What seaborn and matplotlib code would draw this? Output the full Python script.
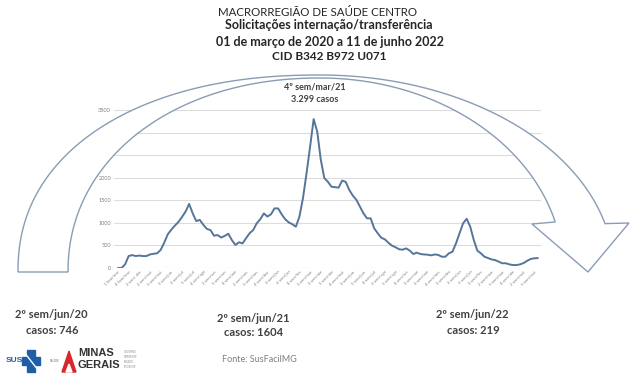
import numpy as np
import matplotlib.pyplot as plt
import seaborn as sns
from matplotlib.path import Path
from matplotlib.patches import PathPatch, Polygon, Rectangle

# casos semanais, 1a semana de mar/2020 ate 2a semana de jun/2022
casos = [0, 0, 80, 265, 285, 265, 275, 265, 265, 300,
         315, 325, 400, 560, 746, 850, 940, 1020, 1130, 1250,
         1420, 1210, 1040, 1065, 955, 865, 840, 715, 730, 675,
         710, 760, 620, 510, 570, 545, 660, 770, 840, 990,
         1080, 1210, 1140, 1190, 1320, 1320, 1190, 1080, 1010, 970,
         915, 1140, 1550, 2100, 2690, 3299, 3020, 2400, 1990, 1910,
         1800, 1790, 1780, 1935, 1910, 1730, 1604, 1510, 1360, 1210,
         1100, 1100, 880, 770, 670, 635, 560, 495, 460, 415,
         405, 435, 385, 310, 340, 310, 300, 295, 280, 300,
         290, 250, 250, 325, 360, 545, 770, 990, 1090, 915,
         620, 385, 325, 250, 220, 190, 175, 140, 105, 105,
         80, 65, 65, 80, 110, 160, 200, 215, 219]

# rotulo a cada 3 semanas
rotulos = ['1 Sem/mar', '4 Sem/mar', '3 sem/ abr', '2 sem/mai', '5 sem/mai',
           '3 sem/jun', '2 sem/jul', '5 sem/jul', '4 sem/ago', '2 sem/set',
           '5 sem/set', '4 sem/out', '2 sem/nov', '5 sem/nov', '4 sem/dez',
           '3 sem/jan', '6 sem/jan', '4 sem/fev', '3 sem/mar', '2 sem/abr',
           '5 sem/abr', '4 sem/mai', '2 sem/jun', '5 sem/jun', '4 sem/jul',
           '2 sem/ago', '5 sem/ago', '4 sem/set', '3 sem/out', '6 sem/out',
           '4 sem/nov', '3 sem/dez', '2 sem/jan', '5 sem/jan', '3 sem/fev',
           '2 sem/mar', '5 sem/mar', '4 sem/abr', '2 sem/mai', '5 sem/mai']

destaques = [('2º sem/jun/20', 'casos: 746'),
             ('2º sem/jun/21', 'casos: 1604'),
             ('2º sem/jun/22', 'casos: 219')]

sns.set_theme(style='white')
plt.rcParams['font.family'] = ['Lato', 'DejaVu Sans']

fig = plt.figure(figsize=(6.4, 3.75), dpi=100)
fig.patch.set_facecolor('white')

# area do grafico (em pixels da imagem)
ax = fig.add_axes([114.4 / 640, (375 - 268) / 375, 427 / 640, 158 / 375])
semanas = np.arange(len(casos))
sns.lineplot(x=semanas, y=casos, ax=ax, color='#56759a', linewidth=1.4)
ax.set_xlim(-1, len(casos))
ax.set_ylim(0, 3500)
ax.set_yticks(np.arange(0, 3501, 500))
ax.set_xticks(semanas[::3])
ax.set_xticklabels(rotulos, rotation=45, ha='right', rotation_mode='anchor',
                   fontsize=3, color='#7f7f7f')
ax.tick_params(axis='y', labelsize=4, labelcolor='#7f7f7f', length=0, pad=2.5)
ax.tick_params(axis='x', length=0, pad=1.5)
ax.yaxis.grid(True, color='#dcdcdc', linewidth=0.8)
ax.set_axisbelow(True)
for s in ax.spines.values():
    s.set_visible(False)
ax.set_xlabel('')
ax.set_ylabel('')

# camada de sobreposicao em pixels
ov = fig.add_axes([0, 0, 1, 1], zorder=5)
ov.set_xlim(0, 640)
ov.set_ylim(375, 0)
ov.axis('off')
ov.patch.set_alpha(0)


def arco(cx, cy, a, b, p, t0, t1, n=80):
    t = np.linspace(t0, t1, n)
    c, s = np.cos(t), np.sin(t)
    x = cx + a * np.sign(c) * np.abs(c) ** (2 / p)
    y = cy - b * np.abs(s) ** (2 / p)
    return np.column_stack([x, y])


# seta curva
ext_esq = arco(320, 272, 302, 197, 2.2, np.pi, np.pi / 2)
ext_dir = arco(320, 272, 294, 197, 2.0, np.pi / 2, np.arccos(285 / 294))
ponta = np.array([[629, 223], [588, 272], [532, 224], [555, 222]])
int_dir = arco(320, 272, 243.5, 194, 2.0, np.arccos(235 / 243.5), np.pi / 2)
int_esq = arco(320, 272, 252, 194, 2.1, np.pi / 2, np.pi)
verts = np.vstack([ext_esq, ext_dir, ponta, int_dir, int_esq, [[18, 272]]])
codes = [Path.MOVETO] + [Path.LINETO] * (len(verts) - 2) + [Path.CLOSEPOLY]
ov.add_patch(PathPatch(Path(verts, codes), facecolor='white', edgecolor='#8a9cb4',
                       linewidth=1.0))

# titulos
escuro = '#262626'
ov.text(317, 13, 'MACRORREGIÃO DE SAÚDE CENTRO', ha='center', va='center',
        fontsize=8.3, color=escuro)
ov.text(329, 25, 'Solicitações internação/transferência', ha='center', va='center',
        fontsize=9, fontweight='bold', color=escuro)
ov.text(330, 42, '01 de março de 2020 a 11 de junho 2022', ha='center', va='center',
        fontsize=9, fontweight='bold', color=escuro)
ov.text(329, 56, 'CID B342 B972 U071', ha='center', va='center',
        fontsize=8.5, fontweight='bold', color=escuro)

# pico
ov.text(315, 87, '4º sem/mar/21', ha='center', va='center', fontsize=6.5,
        fontweight='bold', color='#404040')
ov.text(315, 99, '3.299 casos', ha='center', va='center', fontsize=6.5,
        fontweight='bold', color='#404040')

# destaques
pos = [(51, 315), (253, 318), (472, 315)]
for (t1, t2), (x, y) in zip(destaques, pos):
    ov.text(x, y, t1, ha='center', va='center', fontsize=8, fontweight='bold', color='#404040')
    ov.text(x + 1, y + 15, t2, ha='center', va='center', fontsize=8, fontweight='bold', color='#404040')

ov.text(222, 360, 'Fonte: SusFacilMG', ha='left', va='center', fontsize=6.5, color='#7f7f7f')

# logos
azul = '#1f5fa8'
ov.text(6, 361, 'SUS', ha='left', va='center', fontsize=6, fontweight='bold',
        color=azul, family='Liberation Sans')
ov.add_patch(Rectangle((27, 350), 8, 22, color=azul))
ov.add_patch(Rectangle((22, 357), 18, 8, color=azul))
ov.plot([24, 38], [352, 370], color='white', lw=1.0)
ov.text(50, 361, 'SAÚDE', ha='left', va='center', fontsize=2.2, color='#7f7f7f')
ov.add_patch(Polygon([[62, 372], [69, 351], [76, 372]], closed=True, color='#d8262c'))
ov.add_patch(Polygon([[66, 372], [69, 364], [72, 372]], closed=True, color='white'))
ov.text(78, 353, 'MINAS', ha='left', va='center', fontsize=8, fontweight='bold',
        color='#333333', family='Liberation Sans')
ov.text(78, 365, 'GERAIS', ha='left', va='center', fontsize=8, fontweight='bold',
        color='#333333', family='Liberation Sans')
for i, w in enumerate(['GOVERNO', 'DIFERENTE', 'ESTADO', 'EFICIENTE']):
    ov.text(124, 352 + i * 5, w, ha='left', va='center', fontsize=1.8, color='#8c8c8c')

fig.savefig('out.png', dpi=100, facecolor='white')
